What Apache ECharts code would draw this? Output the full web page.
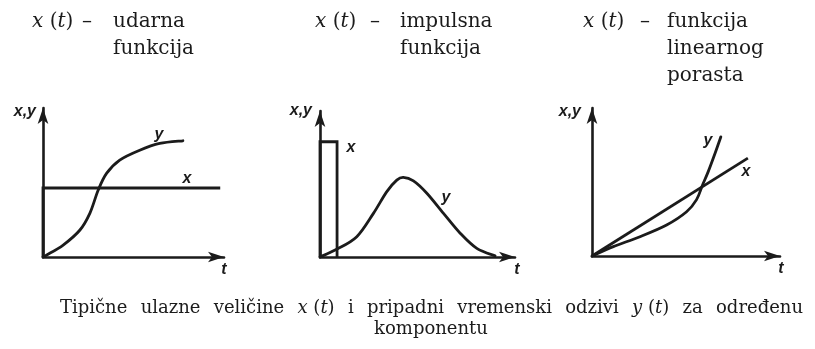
<!DOCTYPE html>
<html>
<head>
<meta charset="utf-8">
<script src="https://cdn.jsdelivr.net/npm/echarts@6/dist/echarts.min.js"></script>
<style>
  html, body { margin: 0; padding: 0; background: #fff; }
  #chart { width: 815px; height: 349px; }
</style>
</head>
<body>
<div id="chart"></div>
<script>
// ulaz i odziv, tri slucaja (t, vrijednost)
var stepX = [[0, 0], [0, 4.4], [9.4, 4.4]];
var stepY = [[0, 0], [0.2, 0.13], [1.07, 0.76], [1.96, 1.72], [2.49, 2.8], [2.93, 4.27],
             [3.37, 5.33], [4.07, 6.18], [5.13, 6.81], [6.19, 7.24], [7.42, 7.41]];

var pulseX = [[0, 0], [0, 7.5], [0.84, 7.5], [0.84, 0]];
var pulseY = [[0, 0], [0.82, 0.5], [1.81, 1.32], [2.63, 2.84], [3.28, 4.24], [3.78, 5.0],
              [4.1, 5.18], [4.6, 4.95], [5.26, 4.15], [6.08, 2.84], [6.9, 1.55], [7.72, 0.56], [8.62, 0.08]];

var rampX = [[0, 0], [7.96, 6.28]];
var rampY = [[0, 0], [1.09, 0.6], [2.45, 1.24], [3.81, 1.99], [4.83, 2.84], [5.34, 3.62],
             [5.63, 4.51], [5.93, 5.4], [6.28, 6.58], [6.58, 7.65]];

var titles = [['udarna', 'funkcija'], ['impulsna', 'funkcija'], ['funkcija', 'linearnog', 'porasta']];
var captionLine1 = ['Tipične', 'ulazne', 'veličine', 'x (t)', 'i', 'pripadni', 'vremenski', 'odzivi', 'y (t)', 'za', 'određenu'];
var captionLine2 = 'komponentu';

var INK = '#1b1b1b';
var SERIF = 'DejaVu Serif';
var LABEL_FONT = 'italic bold 16px "Liberation Sans"';

var myChart = echarts.init(document.getElementById('chart'));

var grids = [
    { left: 43, top: 108, width: 181, height: 149 },
    { left: 320, top: 111, width: 195, height: 146 },
    { left: 592, top: 108, width: 188, height: 148 }
];

function axis(i) {
    return {
        type: 'value', gridIndex: i, min: 0, max: 0,
        axisLine: { show: true, onZero: false, symbol: ['none', 'arrow'], symbolSize: [8, 16],
                    lineStyle: { color: INK, width: 2.6 } },
        axisTick: { show: false }, axisLabel: { show: false }, splitLine: { show: false }
    };
}
var xAxes = [0, 1, 2].map(function (i) { var a = axis(i); a.max = 9.6; return a; });
var yAxes = [0, 1, 2].map(function (i) { var a = axis(i); a.max = 9.5; return a; });

function line(data, i) {
    return {
        type: 'line', data: data, xAxisIndex: i, yAxisIndex: i,
        showSymbol: false, clip: false, silent: true,
        lineStyle: { color: INK, width: 2.8, join: 'miter', cap: 'butt' }
    };
}

// glatka krivulja (catmull-rom) kroz ocitane tocke, preko osi grafa
function curve(data, i) {
    return {
        type: 'custom', coordinateSystem: 'cartesian2d', xAxisIndex: i, yAxisIndex: i,
        data: [data[0]], silent: true,
        renderItem: function (params, api) {
            var p = data.map(function (d) { return api.coord(d); });
            var d = 'M' + p[0][0] + ' ' + p[0][1];
            for (var k = 0; k < p.length - 1; k++) {
                var p0 = p[k - 1] || p[k], p1 = p[k], p2 = p[k + 1], p3 = p[k + 2] || p[k + 1];
                d += ' C' + (p1[0] + (p2[0] - p0[0]) / 6) + ' ' + (p1[1] + (p2[1] - p0[1]) / 6) +
                     ' ' + (p2[0] - (p3[0] - p1[0]) / 6) + ' ' + (p2[1] - (p3[1] - p1[1]) / 6) +
                     ' ' + p2[0] + ' ' + p2[1];
            }
            return {
                type: 'path', shape: { pathData: d },
                style: { fill: null, stroke: INK, lineWidth: 2.8, lineCap: 'round', lineJoin: 'round' }
            };
        }
    };
}

// naslovi panela
var graphic = [];
var titleX = [[32, 82, 113], [315, 370, 400], [583, 640, 667]];
titleX.forEach(function (p, i) {
    graphic.push({
        type: 'text', left: p[0], top: 12,
        style: {
            text: '{i|x} ({i|t})', font: '20px "' + SERIF + '"', fill: INK,
            rich: { i: { fontStyle: 'italic', fontFamily: SERIF, fontSize: 20 } }
        }
    });
    graphic.push({ type: 'text', left: p[1], top: 12, style: { text: '–', font: '20px "' + SERIF + '"', fill: INK } });
    titles[i].forEach(function (w, k) {
        graphic.push({ type: 'text', left: p[2], top: 12 + k * 27, style: { text: w, font: '20px "' + SERIF + '"', fill: INK } });
    });
});

// oznake osi i krivulja
var labels = [
    ['x,y', 36, 112, 'right'], ['y', 159, 135, 'center'], ['x', 187, 179, 'center'], ['t', 224, 270, 'center'],
    ['x,y', 312, 111, 'right'], ['x', 351, 148, 'center'], ['y', 446, 198, 'center'], ['t', 517, 270, 'center'],
    ['x,y', 581, 112, 'right'], ['y', 708, 141, 'center'], ['x', 746, 172, 'center'], ['t', 781, 269, 'center']
];
labels.forEach(function (l) {
    graphic.push({ type: 'text', x: l[1], y: l[2],
        style: { text: l[0], font: LABEL_FONT, fill: INK, align: l[3], verticalAlign: 'middle' } });
});

// potpis - poravnat obostrano, od 60 do 803
var ctx = document.createElement('canvas').getContext('2d');
ctx.font = '18px "' + SERIF + '"';
var widths = captionLine1.map(function (w) { return ctx.measureText(w).width; });
var total = widths.reduce(function (a, b) { return a + b; }, 0);
var gap = (803 - 60 - total) / (captionLine1.length - 1);
var cx = 60;
captionLine1.forEach(function (w, k) {
    var txt = w;
    if (w === 'x (t)') txt = '{i|x} ({i|t})';
    if (w === 'y (t)') txt = '{i|y} ({i|t})';
    graphic.push({ type: 'text', x: cx, y: 308,
        style: { text: txt, font: '18px "' + SERIF + '"', fill: INK, align: 'left', verticalAlign: 'middle',
                 rich: { i: { fontStyle: 'italic', fontFamily: SERIF, fontSize: 18 } } } });
    cx += widths[k] + gap;
});
graphic.push({ type: 'text', x: 431, y: 329,
    style: { text: captionLine2, font: '18px "' + SERIF + '"', fill: INK, align: 'center', verticalAlign: 'middle' } });

var options = {
    backgroundColor: '#fff',
    animation: false,
    grid: grids,
    xAxis: xAxes,
    yAxis: yAxes,
    series: [
        line(stepX, 0), curve(stepY, 0),
        line(pulseX, 1), curve(pulseY, 1),
        line(rampX, 2), curve(rampY, 2)
    ],
    graphic: graphic
};

myChart.setOption(options);
</script>
</body>
</html>
